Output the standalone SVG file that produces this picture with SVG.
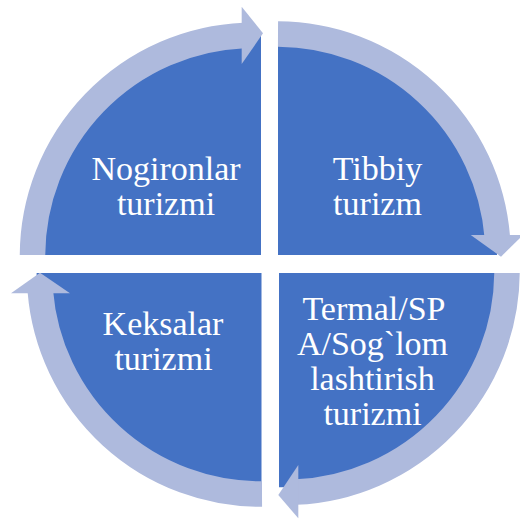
<svg xmlns="http://www.w3.org/2000/svg" width="520" height="520" viewBox="0 0 520 520">
<style>
.pie{fill:#4472C4}
.band{fill:none;stroke:#AEBADD;stroke-width:25.5;stroke-linecap:butt}
.head{fill:#AEBADD}
.lbl{font-family:"Liberation Serif","Times New Roman",serif;font-size:34px;fill:#FFFFFF;text-anchor:middle}
</style>
<rect width="520" height="520" fill="#FFFFFF"/>
<g id="node-nogironlar">
<path class="pie" d="M261,255 L32.5,255 A221,221 0 0 1 261,35.3 Z"/>
<text class="lbl" x="166" y="179.5">Nogironlar</text>
<text class="lbl" x="166" y="214.5">turizmi</text>
</g>
<g id="node-tibbiy">
<path class="pie" d="M278,255 L278,35 A220,220 0 0 1 497,255 Z"/>
<text class="lbl" x="377.5" y="179.5">Tibbiy</text>
<text class="lbl" x="377.5" y="214.5">turizm</text>
</g>
<g id="node-termal">
<path class="pie" d="M279,273 L502,273 A216,216 0 0 1 279,487.2 Z"/>
<text class="lbl" x="374" y="320">Termal/SP</text>
<text class="lbl" x="372.5" y="355">A/Sog`lom</text>
<text class="lbl" x="372.5" y="390">lashtirish</text>
<text class="lbl" x="372.5" y="425">turizmi</text>
</g>
<g id="node-keksalar">
<path class="pie" d="M261.5,273 L261.5,497 A224,224 0 0 1 36.6,273 Z"/>
<text class="lbl" x="163" y="335">Keksalar</text>
<text class="lbl" x="163.5" y="370">turizmi</text>
</g>
<g id="connectors">
<path class="band" d="M32.5,255 A221,221 0 0 1 244,35.4"/>
<polygon class="head" points="241.7,6.7 263,33.3 241.7,64"/>
<path class="band" d="M278,34 A221,221 0 0 1 497.3,237"/>
<polygon class="head" points="470.7,235 501,256.7 523,235"/>
<path class="band" d="M507,273 A221,221 0 0 1 296,492.1"/>
<polygon class="head" points="298.3,465 278.3,495 298.3,518.3"/>
<path class="band" d="M262,494 A221,221 0 0 1 40.3,291"/>
<polygon class="head" points="11,293.3 40,272.7 70,293.3"/>
</g>
</svg>
